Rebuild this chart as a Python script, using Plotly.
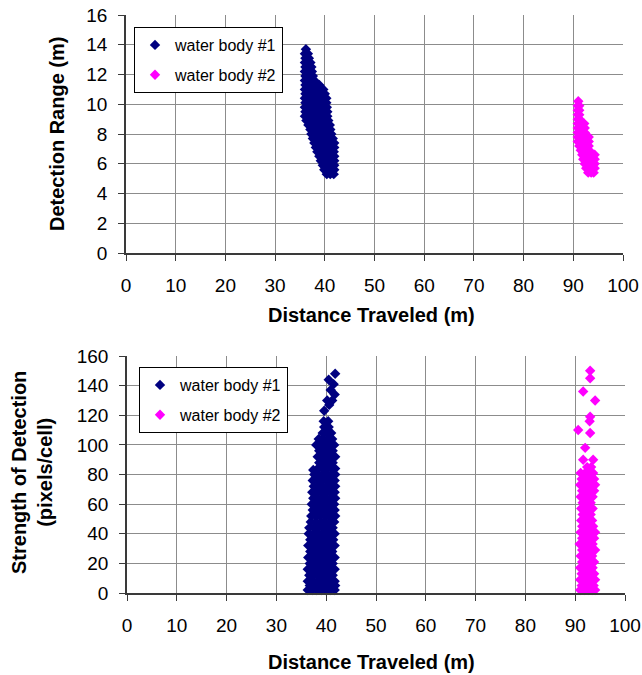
import plotly.graph_objects as go

# ---------------- data ----------------
# Each entry: (value on y axis, [distances traveled at that value])
# Top chart: Detection Range (m) vs Distance Traveled (m)
wb1_top_rows = [
    (13.7, [36.2]),
    (13.4, [36.0, 36.6]),
    (13.1, [36.1, 36.8]),
    (12.8, [36.0, 36.7, 37.1]),
    (12.5, [36.1, 36.8, 37.3]),
    (12.2, [36.0, 36.7, 37.4]),
    (11.9, [36.1, 36.8, 37.6]),
    (11.6, [36.0, 36.7, 37.4, 37.9]),
    (11.3, [36.1, 36.8, 37.6, 38.2, 38.9]),
    (11.0, [36.0, 36.7, 37.5, 38.3, 39.1, 39.7]),
    (10.7, [36.1, 36.9, 37.7, 38.5, 39.3, 40.0]),
    (10.4, [36.0, 36.8, 37.6, 38.4, 39.2, 40.0, 40.3]),
    (10.1, [36.1, 36.9, 37.7, 38.5, 39.3, 40.1, 40.3]),
    (9.8, [36.0, 36.8, 37.6, 38.4, 39.2, 40.0, 40.4]),
    (9.5, [36.1, 36.9, 37.7, 38.5, 39.3, 40.1, 40.5]),
    (9.2, [36.0, 36.8, 37.6, 38.4, 39.2, 40.0, 40.5]),
    (8.9, [36.3, 37.1, 37.9, 38.7, 39.5, 40.3, 40.7]),
    (8.6, [36.7, 37.5, 38.3, 39.1, 39.9, 40.7, 41.0]),
    (8.3, [37.1, 37.9, 38.7, 39.5, 40.3, 41.1]),
    (8.0, [37.3, 38.1, 38.9, 39.7, 40.5, 41.3]),
    (7.7, [37.6, 38.4, 39.2, 40.0, 40.8, 41.6]),
    (7.4, [37.9, 38.7, 39.5, 40.3, 41.1, 41.9]),
    (7.1, [38.2, 39.0, 39.8, 40.6, 41.4, 41.9]),
    (6.8, [38.5, 39.3, 40.1, 40.9, 41.8]),
    (6.5, [38.9, 39.7, 40.5, 41.3, 41.9]),
    (6.2, [39.2, 40.0, 40.8, 41.6, 41.9]),
    (5.9, [39.6, 40.4, 41.2, 41.9]),
    (5.6, [39.9, 40.7, 41.5, 41.9]),
    (5.3, [40.4, 41.1, 41.8]),
]
wb2_top_rows = [
    (10.2, [91.0]),
    (9.9, [90.9, 91.2]),
    (9.6, [90.9, 91.2]),
    (9.3, [90.9, 91.2]),
    (9.0, [90.9, 91.3]),
    (8.7, [90.9, 91.6, 92.2]),
    (8.4, [90.9, 91.6, 92.3]),
    (8.1, [90.9, 91.6, 92.3]),
    (7.8, [90.9, 91.6, 92.3, 93.1]),
    (7.5, [90.9, 91.6, 92.3, 93.1]),
    (7.2, [91.2, 91.9, 92.6, 93.1]),
    (6.9, [91.5, 92.2, 92.9, 93.2]),
    (6.6, [91.8, 92.5, 93.2, 93.9, 94.3]),
    (6.3, [92.0, 92.7, 93.4, 94.1, 94.3]),
    (6.0, [92.3, 93.0, 93.7, 94.3]),
    (5.7, [92.6, 93.3, 94.0, 94.3]),
    (5.4, [93.0, 93.6, 94.1]),
]

# Bottom chart: Strength of Detection (pixels/cell) vs Distance Traveled (m)
wb1_bot_rows = [
    (2, [36.3, 37.2, 38.1, 39.0, 39.9, 40.8, 41.7]),
    (5, [36.7, 37.6, 38.5, 39.4, 40.3, 41.2, 41.8]),
    (8, [36.3, 37.2, 38.2, 39.1, 40.0, 40.9, 41.7]),
    (12, [36.6, 37.5, 38.6, 39.5, 40.4, 41.3]),
    (16, [36.3, 37.1, 38.0, 39.0, 40.0, 40.8, 41.7]),
    (20, [36.7, 37.6, 38.5, 39.5, 40.4, 41.3]),
    (24, [36.4, 37.2, 38.1, 39.0, 39.9, 40.9, 41.7]),
    (28, [36.8, 37.7, 38.6, 39.5, 40.4, 41.2]),
    (32, [36.4, 37.3, 38.2, 39.1, 40.0, 40.9, 41.7]),
    (36, [36.8, 37.7, 38.6, 39.6, 40.5, 41.4]),
    (40, [36.5, 37.4, 38.3, 39.2, 40.1, 41.0, 41.7]),
    (44, [36.6, 37.6, 38.5, 39.4, 40.4, 41.3]),
    (48, [36.9, 37.9, 38.9, 39.8, 40.7, 41.6]),
    (52, [37.0, 37.9, 38.8, 39.7, 40.6, 41.5, 41.8]),
    (56, [37.3, 38.2, 39.1, 40.0, 40.9, 41.7]),
    (60, [37.1, 38.0, 38.9, 39.8, 40.7, 41.6]),
    (64, [37.4, 38.3, 39.2, 40.1, 41.0, 41.8]),
    (68, [37.2, 38.1, 39.0, 39.9, 40.8, 41.7]),
    (72, [37.5, 38.4, 39.3, 40.2, 41.1, 41.8]),
    (76, [37.3, 38.2, 39.1, 40.0, 40.9, 41.7]),
    (80, [37.6, 38.5, 39.4, 40.3, 41.2, 41.8]),
    (83, [37.4]),
    (84, [38.3, 39.2, 40.1, 41.0, 41.8]),
    (88, [38.6, 39.5, 40.4, 41.3]),
    (92, [38.3, 39.2, 40.1, 41.0, 41.8]),
    (96, [38.6, 39.5, 40.4, 41.3]),
    (100, [38.0, 38.9, 39.8, 40.7, 41.6]),
    (104, [38.5, 39.4, 40.3, 41.2]),
    (108, [39.3, 40.2, 41.0]),
    (112, [39.6, 40.5]),
    (116, [39.5, 40.4]),
    (123, [39.6]),
    (127, [40.6]),
    (130, [40.2, 41.2]),
    (134, [41.7]),
    (137, [40.9]),
    (141, [41.5]),
    (144, [40.5]),
    (148, [41.8]),
]
wb2_bot_rows = [
    (2, [91.0, 91.8, 92.6, 93.4, 94.0]),
    (5, [91.3, 92.1, 92.9, 93.7]),
    (9, [91.0, 91.8, 92.6, 93.4, 94.0]),
    (13, [91.3, 92.2, 93.0, 93.8]),
    (17, [91.0, 91.8, 92.6, 93.5]),
    (21, [91.4, 92.2, 93.0, 93.8]),
    (25, [91.1, 91.9, 92.7, 93.4]),
    (29, [91.4, 92.3, 93.1, 94.0]),
    (33, [90.9, 91.8, 92.7, 93.5]),
    (37, [91.4, 92.2, 93.0, 93.8]),
    (41, [91.1, 91.9, 92.7, 93.4, 94.0]),
    (45, [91.4, 92.2, 93.0, 93.6]),
    (49, [91.2, 92.0, 92.8, 93.4]),
    (53, [91.5, 92.3, 93.1]),
    (57, [91.2, 92.0, 92.8, 93.5]),
    (61, [91.5, 92.3, 93.1]),
    (65, [91.1, 91.9, 92.7, 93.5]),
    (69, [91.4, 92.2, 93.0, 93.8]),
    (73, [91.0, 91.8, 92.6, 93.4, 94.0]),
    (77, [91.3, 92.1, 93.0, 93.8]),
    (81, [91.1, 92.0, 92.8, 93.6]),
    (85, [92.4, 93.2]),
    (90, [91.6, 93.6]),
    (98, [92.0]),
    (108, [93.0]),
    (110, [90.6]),
    (116, [92.9]),
    (119, [93.0]),
    (130, [94.0]),
    (136, [91.6]),
    (145, [93.0]),
    (150, [93.0]),
]

x_ticks = [0, 10, 20, 30, 40, 50, 60, 70, 80, 90, 100]
series_names = ["water body #1", "water body #2"]
series_colors = ["#000080", "#FF00FF"]


def flatten(rows):
    xs, ys = [], []
    for yv, xlist in rows:
        for xv in xlist:
            xs.append(xv)
            ys.append(yv)
    return xs, ys


# ---------------- figure ----------------
W, H = 642, 675
FONT = "Liberation Sans, Arial, sans-serif"
GRID = "#8c8c8c"
AXC = "#3a3a3a"

fig = go.Figure()


def add(rows, i, xa, ya, leg):
    xs, ys = flatten(rows)
    fig.add_trace(go.Scatter(
        x=xs, y=ys, mode="markers", name=series_names[i],
        marker=dict(symbol="diamond", size=8, color=series_colors[i]),
        xaxis=xa, yaxis=ya, legend=leg, legendgroup=leg + str(i),
        cliponaxis=False, showlegend=True))


add(wb1_top_rows, 0, "x", "y", "legend")
add(wb2_top_rows, 1, "x", "y", "legend")
add(wb1_bot_rows, 0, "x2", "y2", "legend2")
add(wb2_bot_rows, 1, "x2", "y2", "legend2")

tickfont = dict(family=FONT, size=19, color="black")
common_ax = dict(showgrid=True, gridcolor=GRID, gridwidth=1, showline=True,
                 linecolor=AXC, linewidth=1.5, ticks="outside", ticklen=6,
                 tickcolor=AXC, tickwidth=1, tickfont=tickfont, zeroline=False,
                 fixedrange=True, automargin=False)

fig.update_layout(
    width=W, height=H,
    margin=dict(l=0, r=0, t=0, b=0, pad=0, autoexpand=False),
    paper_bgcolor="white", plot_bgcolor="white",
    font=dict(family=FONT, color="black"),
    xaxis=dict(domain=[126 / W, 623 / W], range=[0, 100], tickvals=x_ticks,
               anchor="y", ticklabelstandoff=8, **common_ax),
    yaxis=dict(domain=[(H - 253) / H, (H - 15) / H], range=[0, 16], dtick=2,
               anchor="x", ticklabelstandoff=7, **common_ax),
    xaxis2=dict(domain=[127 / W, 625 / W], range=[0, 100], tickvals=x_ticks,
                anchor="y2", ticklabelstandoff=8, **common_ax),
    yaxis2=dict(domain=[(H - 593) / H, (H - 356) / H], range=[0, 160], dtick=20,
                anchor="x2", ticklabelstandoff=7, **common_ax),
    legend=dict(x=134 / W, y=(H - 27) / H, xanchor="left", yanchor="top",
                bordercolor="black", borderwidth=1, bgcolor="white",
                font=dict(family=FONT, size=16, color="black"),
                tracegroupgap=6, itemwidth=30),
    legend2=dict(x=139 / W, y=(H - 367) / H, xanchor="left", yanchor="top",
                 bordercolor="black", borderwidth=1, bgcolor="white",
                 font=dict(family=FONT, size=16, color="black"),
                 tracegroupgap=6, itemwidth=30),
    showlegend=True,
)

title_font = dict(family=FONT, size=20, color="black")
ann = [
    dict(text="<b>Distance Traveled (m)</b>", x=372 / W, y=(H - 315) / H),
    dict(text="<b>Distance Traveled (m)</b>", x=372 / W, y=(H - 662) / H),
    dict(text="<b>Detection Range (m)</b>", x=57 / W, y=(H - 134) / H, textangle=-90),
    dict(text="<b>Strength of Detection<br>(pixels/cell)</b>", x=32 / W, y=(H - 473) / H,
         textangle=-90),
]
for a in ann:
    fig.add_annotation(xref="paper", yref="paper", showarrow=False,
                       xanchor="center", yanchor="middle", font=title_font, **a)

fig.write_html("out.html")
